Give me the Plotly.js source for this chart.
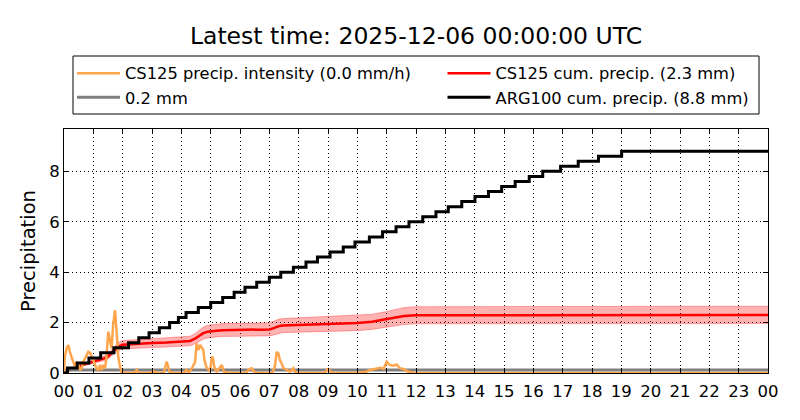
<!DOCTYPE html>
<html>
<head>
<meta charset="utf-8">
<script src="https://cdn.plot.ly/plotly-3.0.1.min.js"></script>
<style>html,body{margin:0;padding:0;background:#fff;}#chart{width:800px;height:420px;}</style>
</head>
<body>
<div id="chart"></div>
<script>
// ---- data (hours since 2025-12-05 00:00 UTC) ----
const hourTicks = [0,1,2,3,4,5,6,7,8,9,10,11,12,13,14,15,16,17,18,19,20,21,22,23,24];
const hourLabels = ["00","01","02","03","04","05","06","07","08","09","10","11","12","13","14","15","16","17","18","19","20","21","22","23","00"];
const yTicks = [0,2,4,6,8];

// CS125 precipitation intensity (mm/h)
const intensTime = [0.00,0.03,0.09,0.15,0.20,0.26,0.32,0.37,0.43,0.49,0.55,0.60,0.66,0.72,0.77,0.83,0.89,0.94,1.00,1.06,1.11,1.17,1.23,1.28,1.34,1.40,1.45,1.51,1.57,1.62,1.68,1.74,1.79,1.85,1.91,1.96,2.05,2.40,2.48,2.55,2.95,3.05,3.15,3.40,3.50,3.60,3.70,4.10,4.17,4.25,4.37,4.47,4.52,4.58,4.64,4.70,4.75,4.79,4.85,4.98,5.03,5.07,5.12,5.20,5.38,5.45,5.60,6.20,6.30,6.40,6.48,6.60,7.10,7.19,7.25,7.31,7.36,7.42,7.48,7.60,7.70,7.82,7.88,8.00,8.90,8.95,9.00,9.07,9.15,9.95,10.10,10.30,10.43,10.55,10.66,10.78,10.89,11.00,11.05,11.11,11.23,11.34,11.45,11.57,11.68,11.80,11.91,24.00];
const intensVal  = [0.05,0.65,0.98,1.11,0.84,0.65,0.45,0.25,0.45,0.32,0.12,0.19,0.45,0.58,0.71,0.84,0.80,0.65,0.45,0.32,0.19,0.12,0.32,0.12,0.32,0.19,0.65,1.64,1.31,0.98,1.97,2.49,1.70,0.65,0.25,0.05,0.00,0.00,0.12,0.00,0.00,0.08,0.00,0.00,0.45,0.05,0.00,0.00,0.12,0.00,0.20,0.45,1.18,0.91,1.11,0.98,0.91,0.51,0.25,0.05,0.58,0.65,0.25,0.05,0.32,0.05,0.00,0.00,0.15,0.19,0.05,0.00,0.00,0.25,0.84,0.78,0.51,0.38,0.19,0.12,0.05,0.19,0.03,0.00,0.00,0.12,0.16,0.08,0.00,0.00,0.03,0.05,0.12,0.16,0.19,0.21,0.16,0.45,0.38,0.32,0.29,0.34,0.19,0.16,0.08,0.05,0.00,0.00];

// CS125 cumulative precipitation (mm) with uncertainty band
const cumTime  = [0,0.2,0.43,0.7,1.0,1.2,1.37,1.5,1.6,1.7,1.84,2.0,2.5,3.0,3.5,4.0,4.3,4.45,4.6,4.75,4.9,5.0,5.2,5.4,6.0,6.5,7.0,7.15,7.3,7.45,8.0,9.0,10.0,10.5,11.0,11.3,11.6,12.0,24];
const cumVal   = [0,0.12,0.22,0.35,0.45,0.52,0.58,0.66,0.78,0.90,1.04,1.12,1.16,1.19,1.21,1.24,1.27,1.35,1.48,1.58,1.64,1.66,1.68,1.70,1.71,1.72,1.73,1.78,1.85,1.88,1.90,1.93,1.98,2.03,2.12,2.20,2.26,2.29,2.30];
const cumLower = [0,0.10,0.19,0.30,0.38,0.44,0.49,0.56,0.66,0.77,0.88,0.95,0.99,1.01,1.03,1.05,1.08,1.15,1.26,1.34,1.39,1.41,1.43,1.45,1.45,1.46,1.47,1.51,1.57,1.60,1.62,1.64,1.68,1.73,1.80,1.87,1.92,1.95,1.96];
const cumUpper = [0,0.14,0.25,0.40,0.52,0.60,0.67,0.76,0.90,1.04,1.20,1.29,1.33,1.37,1.39,1.43,1.46,1.55,1.70,1.82,1.89,1.91,1.93,1.96,1.97,1.98,1.99,2.05,2.13,2.16,2.19,2.22,2.28,2.33,2.44,2.53,2.60,2.63,2.65];

// 0.2 mm reference line
const refTime = [0,24];
const refVal  = [0.12,0.12];

// ARG100 cumulative precipitation (tipping bucket, mm)
const argTime = [0,0.12,0.45,0.85,1.25,1.7,2.2,2.55,2.9,3.25,3.6,3.9,4.16,4.58,5.0,5.41,5.80,6.17,6.57,7.0,7.39,7.82,8.25,8.64,9.07,9.52,9.92,10.41,10.86,11.32,11.76,12.23,12.68,13.10,13.56,14.01,14.47,14.92,15.38,15.86,16.32,16.93,17.53,18.22,19.01,24];
const argVal  = [0,0.2,0.4,0.6,0.8,1.0,1.2,1.4,1.6,1.8,2.0,2.2,2.4,2.6,2.8,3.0,3.2,3.4,3.6,3.8,4.0,4.2,4.4,4.6,4.8,5.0,5.2,5.4,5.6,5.8,6.0,6.2,6.4,6.6,6.8,7.0,7.2,7.4,7.6,7.8,8.0,8.2,8.4,8.6,8.8,8.8];

const names = {
  intens: "CS125 precip. intensity (0.0 mm/h)",
  cum: "CS125 cum. precip. (2.3 mm)",
  ref: "0.2 mm",
  arg: "ARG100 cum. precip. (8.8 mm)"
};

// ---- plot ----
const FONT = "DejaVu Sans, sans-serif";
const traces = [
  {x: cumTime, y: cumLower, mode: "lines", line: {color: "rgba(255,0,0,0.3)", width: 1}, showlegend: false, hoverinfo: "skip"},
  {x: cumTime, y: cumUpper, mode: "lines", line: {color: "rgba(255,0,0,0.3)", width: 1}, fill: "tonexty", fillcolor: "rgba(255,0,0,0.3)", showlegend: false, hoverinfo: "skip"},
  {x: cumTime, y: cumVal, mode: "lines", name: names.cum, line: {color: "#ff0000", width: 2.5}, legend: "legend2", legendrank: 1},
  {x: refTime, y: refVal, mode: "lines", name: names.ref, line: {color: "#808080", width: 3}, legend: "legend", legendrank: 2},
  {x: intensTime, y: intensVal, mode: "lines", name: names.intens, line: {color: "#ffa64d", width: 2.5}, legend: "legend", legendrank: 1},
  {x: argTime, y: argVal, mode: "lines", name: names.arg, line: {color: "#000000", width: 3, shape: "hv"}, legend: "legend2", legendrank: 2}
];

const axisCommon = {
  showline: true, linecolor: "#000", linewidth: 1, mirror: "ticks",
  ticks: "inside", ticklen: 5, tickcolor: "#000", tickwidth: 1,
  showgrid: true, gridcolor: "#000", gridwidth: 1, griddash: "1px,3px",
  zeroline: false, tickfont: {family: FONT, size: 16.5, color: "#000"}
};

const legendCommon = {
  orientation: "v", xanchor: "left", y: 1.299, yanchor: "top", itemwidth: 43,
  bgcolor: "rgba(0,0,0,0)", borderwidth: 0, traceorder: "normal",
  font: {family: FONT, size: 16.3, color: "#000"}
};

const layout = {
  width: 800, height: 420,
  margin: {l: 64, r: 32, t: 129, b: 47},
  paper_bgcolor: "#fff", plot_bgcolor: "#fff",
  font: {family: FONT, color: "#000"},
  title: {text: "Latest time: 2025-12-06 00:00:00 UTC", font: {family: FONT, size: 23.5, color: "#000"},
          x: 0.5, xref: "paper", xanchor: "center", y: 0.915, yref: "container", yanchor: "middle"},
  xaxis: Object.assign({}, axisCommon, {range: [0, 24], tickmode: "array", tickvals: hourTicks, ticktext: hourLabels, ticklabelstandoff: 3}),
  yaxis: Object.assign({}, axisCommon, {range: [0, 9.68], tickmode: "array", tickvals: yTicks,
          title: {text: "Precipitation", font: {family: FONT, size: 19.5, color: "#000"}, standoff: 8}}),
  showlegend: true,
  legend: Object.assign({}, legendCommon, {x: (72-64)/704}),
  legend2: Object.assign({}, legendCommon, {x: (442.5-64)/704}),
  shapes: [{type: "rect", xref: "paper", yref: "paper",
            x0: (73-64)/704, x1: (759-64)/704, y0: (373-114)/244, y1: (373-56)/244,
            line: {color: "#000", width: 1}, fillcolor: "rgba(0,0,0,0)", layer: "above"}]
};

Plotly.newPlot("chart", traces, layout, {staticPlot: true, displayModeBar: false});
</script>
</body>
</html>
